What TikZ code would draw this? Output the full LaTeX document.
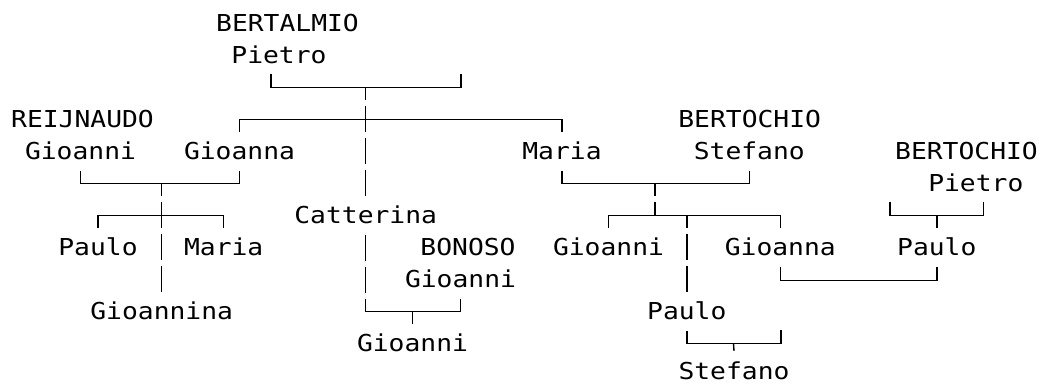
\documentclass[tikz,border=0pt]{standalone}
\usepackage{fontspec}
\newfontfamily\treefont{DejaVu Sans Mono}[FakeStretch=1.13]
\usetikzlibrary{positioning}

\begin{document}
\begin{tikzpicture}[x=1pt, y=-1pt, line width=1.4pt,
  person/.style={anchor=base, inner xsep=0pt, inner ysep=10.5pt, text height=17pt, text depth=0pt,
    font=\treefont\fontsize{23.3}{28}\selectfont},
  descent/.style={dash pattern=on 26pt off 6pt, dash phase=14pt}]
\path[use as bounding box] (0,0) rectangle (1055,383);
\node[person] (bert) at (287.5,31.7) {BERTALMIO};
\node[person] (pie1) at (279,63.7) {Pietro};
\node[person] (reij) at (82.5,127.7) {REIJNAUDO};
\node[person] (gni1) at (80.5,159.7) {Gioanni};
\node[person] (gna1) at (239.5,159.7) {Gioanna};
\node[person] (mar1) at (562,159.7) {Maria};
\node[person] (bch1) at (749.7,127.7) {BERTOCHIO};
\node[person] (ste1) at (749.3,159.7) {Stefano};
\node[person] (bch2) at (966.5,159.7) {BERTOCHIO};
\node[person] (pie2) at (975.8,191.7) {Pietro};
\node[person] (cat) at (365.7,223.7) {Catterina};
\node[person] (pau1) at (98,255.7) {Paulo};
\node[person] (mar2) at (223.7,255.7) {Maria};
\node[person] (bon) at (468,255.7) {BONOSO};
\node[person] (gni2) at (460.5,287.7) {Gioanni};
\node[person] (gnina) at (161.7,319.7) {Gioannina};
\node[person] (gni3) at (412.5,351.7) {Gioanni};
\node[person] (gni4) at (608.5,255.7) {Gioanni};
\node[person] (gna2) at (780.3,255.7) {Gioanna};
\node[person] (pau2) at (936.8,255.7) {Paulo};
\node[person] (pau3) at (686.8,319.7) {Paulo};
\node[person] (ste2) at (734,379) {Stefano};
\coordinate (c1) at (365.7,87.5);
\coordinate (c1l) at (271,73.7);
\coordinate (c1r) at (461,73.7);
\coordinate (k1) at (365.7,119.7);
\coordinate (c3) at (161.7,183.7);
\coordinate (k3) at (161.7,215.7);
\coordinate (c2) at (655,183.7);
\coordinate (k2) at (655,215.7);
\coordinate (c4) at (936.8,215.7);
\coordinate (c4l) at (890,201.7);
\coordinate (c4r) at (983.3,201.7);
\coordinate (c6) at (412.5,311.7);
\coordinate (c7) at (733.5,343.7);
\coordinate (c7r) at (781,329.7);
\draw (c1l) |- (c1) -| (c1r);
\draw[descent] (c1) -- (cat.north);
\draw (gna1.north) |- (k1) -| (mar1.north);
\draw (gni1.south) |- (c3) -| (gna1.south);
\draw[descent] (c3) -- (gnina.north);
\draw (pau1.north) |- (k3) -| (mar2.north);
\draw (mar1.south) |- (c2) -| (ste1.south);
\draw[descent] (c2) -- (k2);
\draw (gni4.north) |- (k2) -| (gna2.north);
\draw[descent] (k2 -| pau3) -- (pau3.north);
\draw (c4l) |- (c4) -| (c4r);
\draw (c4) -- (pau2.north);
\draw (gna2.south) -- ++(0,13.5) -| (pau2.south);
\draw[descent, dash phase=0pt] (cat.south) -- (cat.south |- c6);
\draw (cat.south |- c6) -| (gni2.south);
\draw (c6) -- (gni3.north);
\draw (pau3.south) |- (c7) -| (c7r);
\draw (c7) -- (ste2.north);
\end{tikzpicture}
\end{document}
